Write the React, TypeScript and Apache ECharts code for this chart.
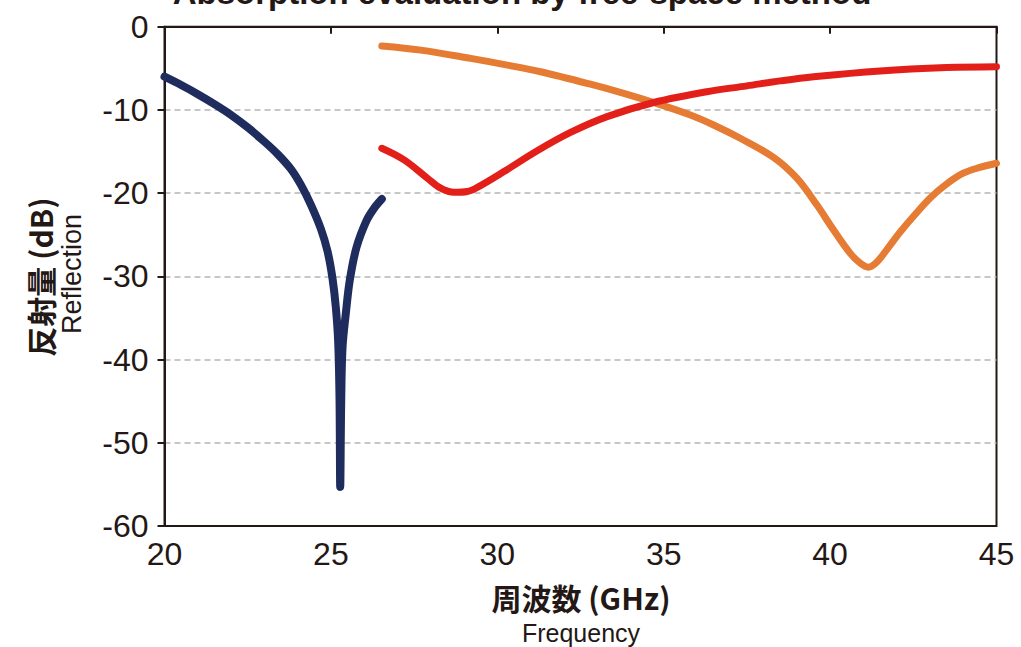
import React, { useEffect, useRef } from "react";
import * as echarts from "echarts";

const xTicks = [20, 25, 30, 35, 40, 45];
const yTicks = [0, -10, -20, -30, -40, -50, -60];

const blueFreq = [20.0, 20.5, 21.0, 21.5, 22.0, 22.5, 23.0, 23.4, 23.8, 24.1, 24.4, 24.7, 24.9, 25.05, 25.15, 25.22, 25.26, 25.28, 25.31, 25.35, 25.45, 25.57, 25.77, 26.07, 26.3, 26.53];
const blueVal = [-6.0, -7.0, -8.1, -9.3, -10.6, -12.1, -13.8, -15.3, -17.1, -19.0, -21.4, -24.3, -27.0, -30.3, -33.8, -38.0, -45.0, -55.3, -45.0, -38.5, -34.4, -30.4, -26.5, -23.3, -21.8, -20.7];

const orangeFreq = [26.53, 27.7, 29.2, 30.3, 31.3, 32.8, 33.8, 34.7, 35.8, 36.5, 37.3, 38.3, 39.0, 39.6, 40.1, 40.6, 40.9, 41.15, 41.4, 41.7, 42.1, 42.5, 43.0, 43.5, 44.0, 44.5, 45.0];
const orangeVal = [-2.3, -2.8, -3.8, -4.6, -5.4, -6.9, -8.0, -9.1, -10.6, -11.8, -13.4, -15.7, -18.2, -21.4, -24.4, -27.2, -28.4, -28.9, -28.3, -26.8, -24.7, -22.8, -20.6, -18.9, -17.6, -16.9, -16.4];

const redFreq = [26.53, 27.2, 27.9, 28.3, 28.7, 29.1, 29.4, 30.2, 31.2, 32.2, 33.3, 34.7, 36.3, 37.5, 38.5, 39.5, 41.5, 43.5, 45.0];
const redVal = [-14.6, -16.0, -18.2, -19.4, -19.9, -19.8, -19.3, -17.4, -14.9, -12.7, -10.8, -9.1, -7.8, -7.1, -6.5, -6.0, -5.3, -4.9, -4.8];

const titleText = "Absorption evaluation by free-space method";
const xNameJa = "周波数 (GHz)";
const xNameEn = "Frequency";
const yNameJa = "反射量 (dB)";
const yNameEn = "Reflection";

const pairs = (xs: number[], ys: number[]) => xs.map((x, i) => [x, ys[i]]);

export default function App() {
  const ref = useRef<HTMLDivElement>(null);
  useEffect(() => {
    if (!ref.current) return;
    const chart = echarts.init(ref.current, null, { renderer: "svg" });
    const axisColor = "#231815";
    const labelFont = "'Liberation Sans', Arial, sans-serif";
    const cjkFont = "'Noto Sans CJK JP', 'Liberation Sans', sans-serif";
    chart.setOption({
      animation: false,
      backgroundColor: "#ffffff",
      grid: {
        left: 164.5,
        right: 24.5,
        top: 26.8,
        bottom: 121,
        show: true,
        borderColor: axisColor,
        borderWidth: 2,
        backgroundColor: "transparent",
      },
      xAxis: {
        type: "value",
        min: xTicks[0],
        max: xTicks[xTicks.length - 1],
        interval: 5,
        axisLine: { show: true, lineStyle: { color: axisColor, width: 2 } },
        axisTick: { show: true, inside: false, length: 7, lineStyle: { color: axisColor, width: 2 } },
        axisLabel: {
          color: axisColor,
          fontSize: 32,
          fontFamily: labelFont,
          margin: 12,
          formatter: (v: number) => String(v),
        },
        splitLine: { show: false },
      },
      yAxis: {
        type: "value",
        min: yTicks[yTicks.length - 1],
        max: yTicks[0],
        interval: 10,
        axisLine: { show: true, lineStyle: { color: axisColor, width: 2 } },
        axisTick: { show: true, inside: false, length: 7, lineStyle: { color: axisColor, width: 2 } },
        axisLabel: {
          color: axisColor,
          fontSize: 32,
          fontFamily: labelFont,
          margin: 16,
          formatter: (v: number) => String(v),
        },
        splitLine: {
          show: true,
          showMinLine: false,
          showMaxLine: false,
          lineStyle: { color: "#b5b5b5", width: 1.5, type: [6, 4] },
        },
      },
      graphic: [
        {
          type: "text",
          style: {
            text: titleText,
            x: 522,
            y: 9,
            align: "center",
            verticalAlign: "bottom",
            fontSize: 33,
            fontWeight: "bold",
            fontFamily: labelFont,
            fill: axisColor,
          },
          silent: true,
        },
        {
          type: "text",
          style: {
            text: xNameJa,
            x: 581,
            y: 597,
            align: "center",
            verticalAlign: "middle",
            fontSize: 30,
            fontWeight: "bold",
            fontFamily: cjkFont,
            fill: axisColor,
          },
        },
        {
          type: "text",
          style: {
            text: xNameEn,
            x: 581,
            y: 633,
            align: "center",
            verticalAlign: "middle",
            fontSize: 25,
            fontFamily: labelFont,
            fill: axisColor,
          },
        },
        {
          type: "text",
          x: 40,
          y: 277,
          rotation: Math.PI / 2,
          style: {
            text: yNameJa,
            x: 0,
            y: 0,
            align: "center",
            verticalAlign: "middle",
            fontSize: 30,
            fontWeight: "bold",
            fontFamily: cjkFont,
            fill: axisColor,
          },
        },
        {
          type: "text",
          x: 72,
          y: 274,
          rotation: Math.PI / 2,
          style: {
            text: yNameEn,
            x: 0,
            y: 0,
            align: "center",
            verticalAlign: "middle",
            fontSize: 27,
            fontFamily: labelFont,
            fill: axisColor,
          },
        },
      ],
      series: [
        {
          type: "line",
          data: pairs(blueFreq, blueVal),
          showSymbol: false,
          smooth: 0.35,
          lineStyle: { color: "#1f2d5e", width: 8, cap: "round", join: "round" },
        },
        {
          type: "line",
          data: pairs(orangeFreq, orangeVal),
          showSymbol: false,
          smooth: 0.35,
          lineStyle: { color: "#e67b33", width: 7, cap: "round", join: "round" },
        },
        {
          type: "line",
          data: pairs(redFreq, redVal),
          showSymbol: false,
          smooth: 0.35,
          lineStyle: { color: "#e31f1a", width: 7, cap: "round", join: "round" },
        },
      ],
    });
    return () => chart.dispose();
  }, []);
  return (
    <div
      ref={ref}
      style={{ position: "absolute", left: 0, top: 0, width: 1021, height: 647, overflow: "hidden" }}
    />
  );
}
